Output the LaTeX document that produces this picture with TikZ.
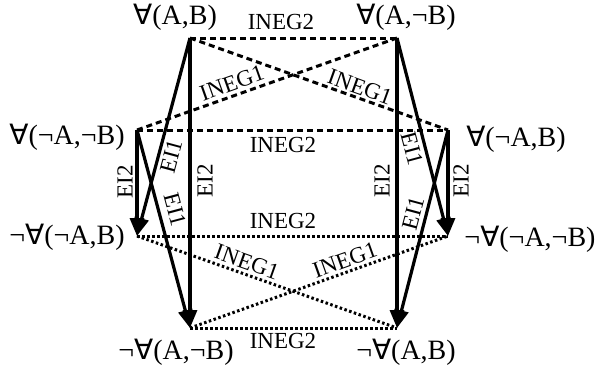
\documentclass[tikz,border=0pt]{standalone}
\usepackage{fontspec}
\setmainfont{Liberation Serif}
\newfontfamily\symf{DejaVu Sans}
\usetikzlibrary{arrows.meta}
\newcommand{\FA}{{\symf ∀}}
\begin{document}
\begin{tikzpicture}[x=1pt,y=-1pt,
  big/.style={font=\fontsize{28}{30}\selectfont, inner sep=0pt},
  lbl/.style={font=\fontsize{23}{24}\selectfont, inner sep=0pt},
  inf/.style={line width=3.2pt, -{Triangle[length=18pt,width=14pt]}},
  negone/.style={line width=3pt, dash pattern=on 6pt off 4pt},
  negtwo/.style={line width=3pt, dash pattern=on 2.5pt off 2.5pt},
]
\useasboundingbox (0,0) rectangle (600,367);
\coordinate (p1) at (190,38);
\coordinate (p2) at (397,38);
\coordinate (p3) at (137,130);
\coordinate (p4) at (448,130);
\coordinate (p5) at (137,236);
\coordinate (p6) at (448,236);
\coordinate (p7) at (190,328);
\coordinate (p8) at (397,328);

\node[big] (t1) at (175,17) {\FA(A,B)};
\node[big] (t2) at (406,17) {\FA(A,¬B)};
\node[big] (t3) at (67,137) {\FA(¬A,¬B)};
\node[big] (t4) at (516,139) {\FA(¬A,B)};
\node[big] (t5) at (67,237) {¬\FA(¬A,B)};
\node[big] (t6) at (530,239) {¬\FA(¬A,¬B)};
\node[big] (t7) at (176,352) {¬\FA(A,¬B)};
\node[big] (t8) at (406,352) {¬\FA(A,B)};

% dashed
\draw[negone] (p1) -- (p2);
\draw[negone] (p3) -- (p4);
\draw[negone] (p1) -- (p4);
\draw[negone] (p3) -- (p2);
% dotted
\draw[negtwo] (p5) -- (p6);
\draw[negtwo] (p7) -- (p8);
\draw[negtwo] (p5) -- (p8);
\draw[negtwo] (p7) -- (p6);
% arrows
\draw[inf] (p1) -- (p7);
\draw[inf] (p1) -- (p5);
\draw[inf] (p3) -- (p5);
\draw[inf] (p3) -- (p7);
\draw[inf] (p2) -- (p8);
\draw[inf] (p2) -- (p6);
\draw[inf] (p4) -- (p6);
\draw[inf] (p4) -- (p8);

% labels
\node[lbl] (n1) at (281,22) {INEG2};
\node[lbl] (n2) at (283,145) {INEG2};
\node[lbl] (n3) at (283,221) {INEG2};
\node[lbl] (n4) at (283,341) {INEG2};
\node[lbl, rotate=19.5] (m1) at (232,83) {INEG1};
\node[lbl, rotate=-19.8] (m2) at (360,87) {INEG1};
\node[lbl, rotate=-19.5] (m3) at (247,262) {INEG1};
\node[lbl, rotate=19.6] (m4) at (345,260) {INEG1};
\node[lbl, rotate=90] (e1) at (125,182) {EI2};
\node[lbl, rotate=90] (e2) at (205,181) {EI2};
\node[lbl, rotate=90] (e3) at (382,181) {EI2};
\node[lbl, rotate=90] (e4) at (461,181) {EI2};
\node[lbl, rotate=75] (f1) at (171,156) {EI1};
\node[lbl, rotate=-75] (f2) at (175,210) {EI1};
\node[lbl, rotate=-75] (f3) at (412,149) {EI1};
\node[lbl, rotate=75] (f4) at (413,213) {EI1};
\end{tikzpicture}
\end{document}
